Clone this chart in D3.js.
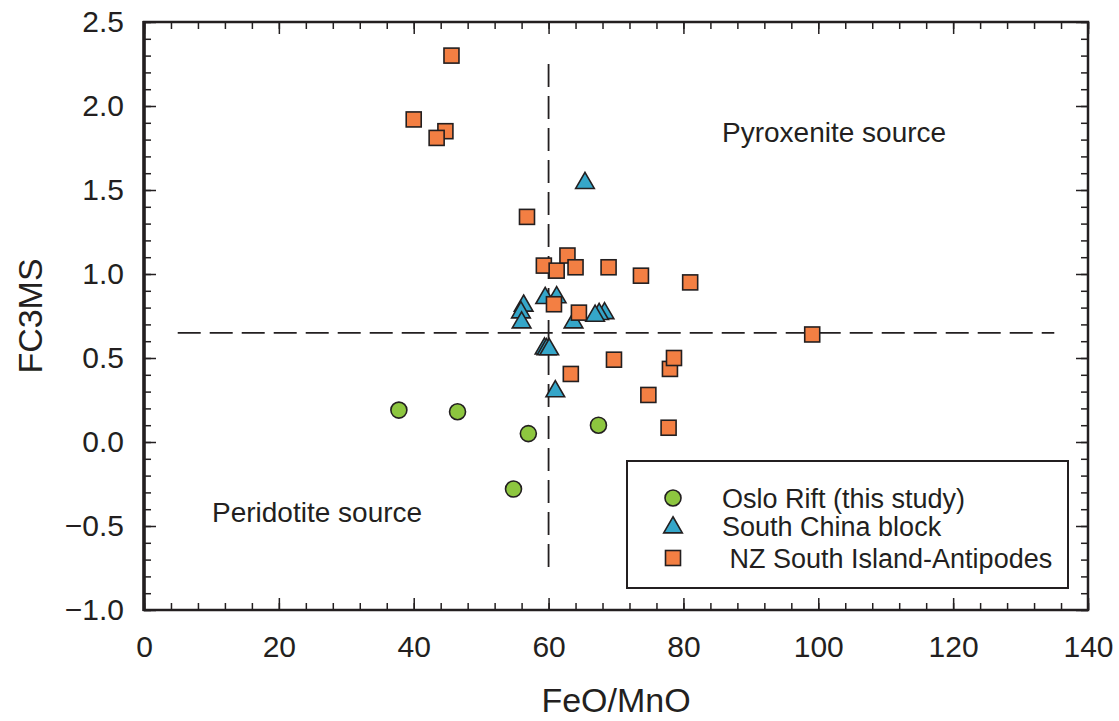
<!DOCTYPE html>
<html>
<head>
<meta charset="utf-8">
<script src="https://cdn.jsdelivr.net/npm/d3@7"></script>
<style>
  body { margin: 0; background: #fff; }
  svg text { font-family: "Liberation Sans", Arial, Helvetica, sans-serif; fill: #231f20; }
</style>
</head>
<body>
<svg width="1119" height="721"></svg>
<script>
// FeO/MnO vs FC3MS
let osloRift = [
  [37.8, 0.19], [46.5, 0.18], [57.0, 0.05], [67.4, 0.10], [54.8, -0.28]
]
let southChina = [
  [65.4, 1.55],
  [56.3, 0.82], [55.9, 0.78], [56.0, 0.72],
  [59.5, 0.865], [61.2, 0.87], [63.7, 0.72],
  [68.3, 0.775], [67.5, 0.77], [66.9, 0.76],
  [59.4, 0.565], [59.7, 0.56], [60.1, 0.56],
  [61.0, 0.31]
]
let nzAntipodes = [
  [45.6, 2.30], [40.0, 1.92], [44.7, 1.85], [43.4, 1.81], [56.8, 1.34],
  [59.3, 1.05], [61.2, 1.02], [62.8, 1.11], [64.0, 1.04], [68.9, 1.04],
  [73.7, 0.99], [81.0, 0.95], [60.8, 0.82], [64.5, 0.77], [69.7, 0.49],
  [78.0, 0.435], [78.6, 0.50], [63.3, 0.405], [74.8, 0.28], [77.8, 0.085],
  [99.1, 0.64]
]
let seriesNames = ["Oslo Rift (this study)", "South China block", " NZ South Island-Antipodes"]
let xTicks = [0, 20, 40, 60, 80, 100, 120, 140]
let yTicks = [-1.0, -0.5, 0.0, 0.5, 1.0, 1.5, 2.0, 2.5]
// dashed field boundaries
let hLine = { y: 0.65, x0: 5, x1: 135 }
let vLine = { x: 60, y0: -0.75, y1: 2.25 }

let margin = { top: 22, right: 31, bottom: 111, left: 144 },
    width = 1119 - margin.left - margin.right,
    height = 721 - margin.top - margin.bottom

let ink = "#231f20"
let colors = ["#8dc63f", "#35a6c9", "#f37f43"]

let x = d3.scaleLinear().domain([0, 140]).range([0, width])
let y = d3.scaleLinear().domain([-1.0, 2.5]).range([height, 0])

let svg = d3.select("svg")
svg.append("rect").attr("width", 1119).attr("height", 721).attr("fill", "#fff")

let g = svg.append("g")
    .attr("transform", "translate(" + margin.left + "," + margin.top + ")")

function styleAxis(sel) {
    sel.select(".domain").remove()
    sel.selectAll(".tick line").attr("stroke", ink).attr("stroke-width", 1.5)
    sel.selectAll(".tick text").style("font-size", "30px").attr("fill", ink)
}

let minorX = d3.range(0, 141, 4), minorY = d3.range(-10, 26).map(d => d / 10)

// bottom
g.append("g").attr("transform", "translate(0," + height + ")")
    .call(d3.axisBottom(x).tickValues(minorX).tickSize(-7).tickFormat(""))
    .call(styleAxis)
g.append("g").attr("transform", "translate(0," + height + ")")
    .call(d3.axisBottom(x).tickValues(xTicks).tickSize(-12).tickPadding(26).tickFormat(d3.format("d")))
    .call(styleAxis)
// top
g.append("g")
    .call(d3.axisTop(x).tickValues(minorX).tickSize(-7).tickFormat(""))
    .call(styleAxis)
g.append("g")
    .call(d3.axisTop(x).tickValues(xTicks).tickSize(-12).tickFormat(""))
    .call(styleAxis)
// left
g.append("g")
    .call(d3.axisLeft(y).tickValues(minorY).tickSize(-7).tickFormat(""))
    .call(styleAxis)
g.append("g")
    .call(d3.axisLeft(y).tickValues(yTicks).tickSize(-12).tickPadding(20).tickFormat(d3.format(".1f")))
    .call(styleAxis)
// right
g.append("g").attr("transform", "translate(" + width + ",0)")
    .call(d3.axisRight(y).tickValues(minorY).tickSize(-7).tickFormat(""))
    .call(styleAxis)
g.append("g").attr("transform", "translate(" + width + ",0)")
    .call(d3.axisRight(y).tickValues(yTicks).tickSize(-12).tickFormat(""))
    .call(styleAxis)

// frame
g.append("rect")
    .attr("width", width).attr("height", height)
    .attr("fill", "none").attr("stroke", ink).attr("stroke-width", 2.5)
g.append("line")
    .attr("x1", 0).attr("x2", 0).attr("y1", -1).attr("y2", height + 1)
    .attr("stroke", ink).attr("stroke-width", 3.5)

// dashed boundaries
g.append("line")
    .attr("x1", x(hLine.x0)).attr("x2", x(hLine.x1))
    .attr("y1", y(hLine.y)).attr("y2", y(hLine.y))
    .attr("stroke", ink).attr("stroke-width", 1.8).attr("stroke-dasharray", "23,9")
g.append("line")
    .attr("x1", x(vLine.x)).attr("x2", x(vLine.x))
    .attr("y1", y(vLine.y1)).attr("y2", y(vLine.y0))
    .attr("stroke", ink).attr("stroke-width", 1.8).attr("stroke-dasharray", "23,9")

// field labels
g.append("text")
    .attr("x", 578).attr("y", 120)
    .style("font-size", "28px")
    .text("Pyroxenite source")
g.append("text")
    .attr("x", 68).attr("y", 500)
    .style("font-size", "28px")
    .text("Peridotite source")

// markers
let triangle = d3.symbol().type(d3.symbolTriangle).size(150)

g.append("g").selectAll("circle")
    .data(osloRift)
    .join("circle")
    .attr("cx", d => x(d[0]))
    .attr("cy", d => y(d[1]))
    .attr("r", 8)
    .attr("fill", colors[0])
    .attr("stroke", ink).attr("stroke-width", 1.6)

g.append("g").selectAll("path")
    .data(southChina)
    .join("path")
    .attr("d", triangle)
    .attr("transform", d => "translate(" + x(d[0]) + "," + (y(d[1]) + 1.5) + ")")
    .attr("fill", colors[1])
    .attr("stroke", ink).attr("stroke-width", 1.6)

g.append("g").selectAll("rect")
    .data(nzAntipodes)
    .join("rect")
    .attr("x", d => x(d[0]) - 7.5)
    .attr("y", d => y(d[1]) - 7.5)
    .attr("width", 15).attr("height", 15)
    .attr("fill", colors[2])
    .attr("stroke", ink).attr("stroke-width", 1.6)

// legend
let legend = g.append("g").attr("transform", "translate(" + (627 - margin.left) + "," + (461 - margin.top) + ")")
legend.append("rect")
    .attr("width", 441).attr("height", 127)
    .attr("fill", "#fff").attr("stroke", ink).attr("stroke-width", 2)

let rowY = [37, 65, 97]
legend.append("circle")
    .attr("cx", 46).attr("cy", rowY[0]).attr("r", 8)
    .attr("fill", colors[0]).attr("stroke", ink).attr("stroke-width", 1.6)
legend.append("path")
    .attr("d", triangle)
    .attr("transform", "translate(46," + (rowY[1] + 1.5) + ")")
    .attr("fill", colors[1]).attr("stroke", ink).attr("stroke-width", 1.6)
legend.append("rect")
    .attr("x", 46 - 7.5).attr("y", rowY[2] - 7.5).attr("width", 15).attr("height", 15)
    .attr("fill", colors[2]).attr("stroke", ink).attr("stroke-width", 1.6)

legend.selectAll(".lab")
    .data(seriesNames)
    .join("text")
    .attr("class", "lab")
    .attr("x", 95)
    .attr("y", (d, i) => rowY[i] + 10)
    .style("font-size", "27px")
    .style("white-space", "pre")
    .attr("xml:space", "preserve")
    .text(d => d)

// axis titles
svg.append("text")
    .attr("x", margin.left + width / 2).attr("y", 712)
    .attr("text-anchor", "middle")
    .style("font-size", "34px")
    .text("FeO/MnO")
svg.append("text")
    .attr("transform", "translate(42," + (margin.top + height / 2) + ") rotate(-90)")
    .attr("text-anchor", "middle")
    .style("font-size", "34px")
    .text("FC3MS")
</script>
</body>
</html>
